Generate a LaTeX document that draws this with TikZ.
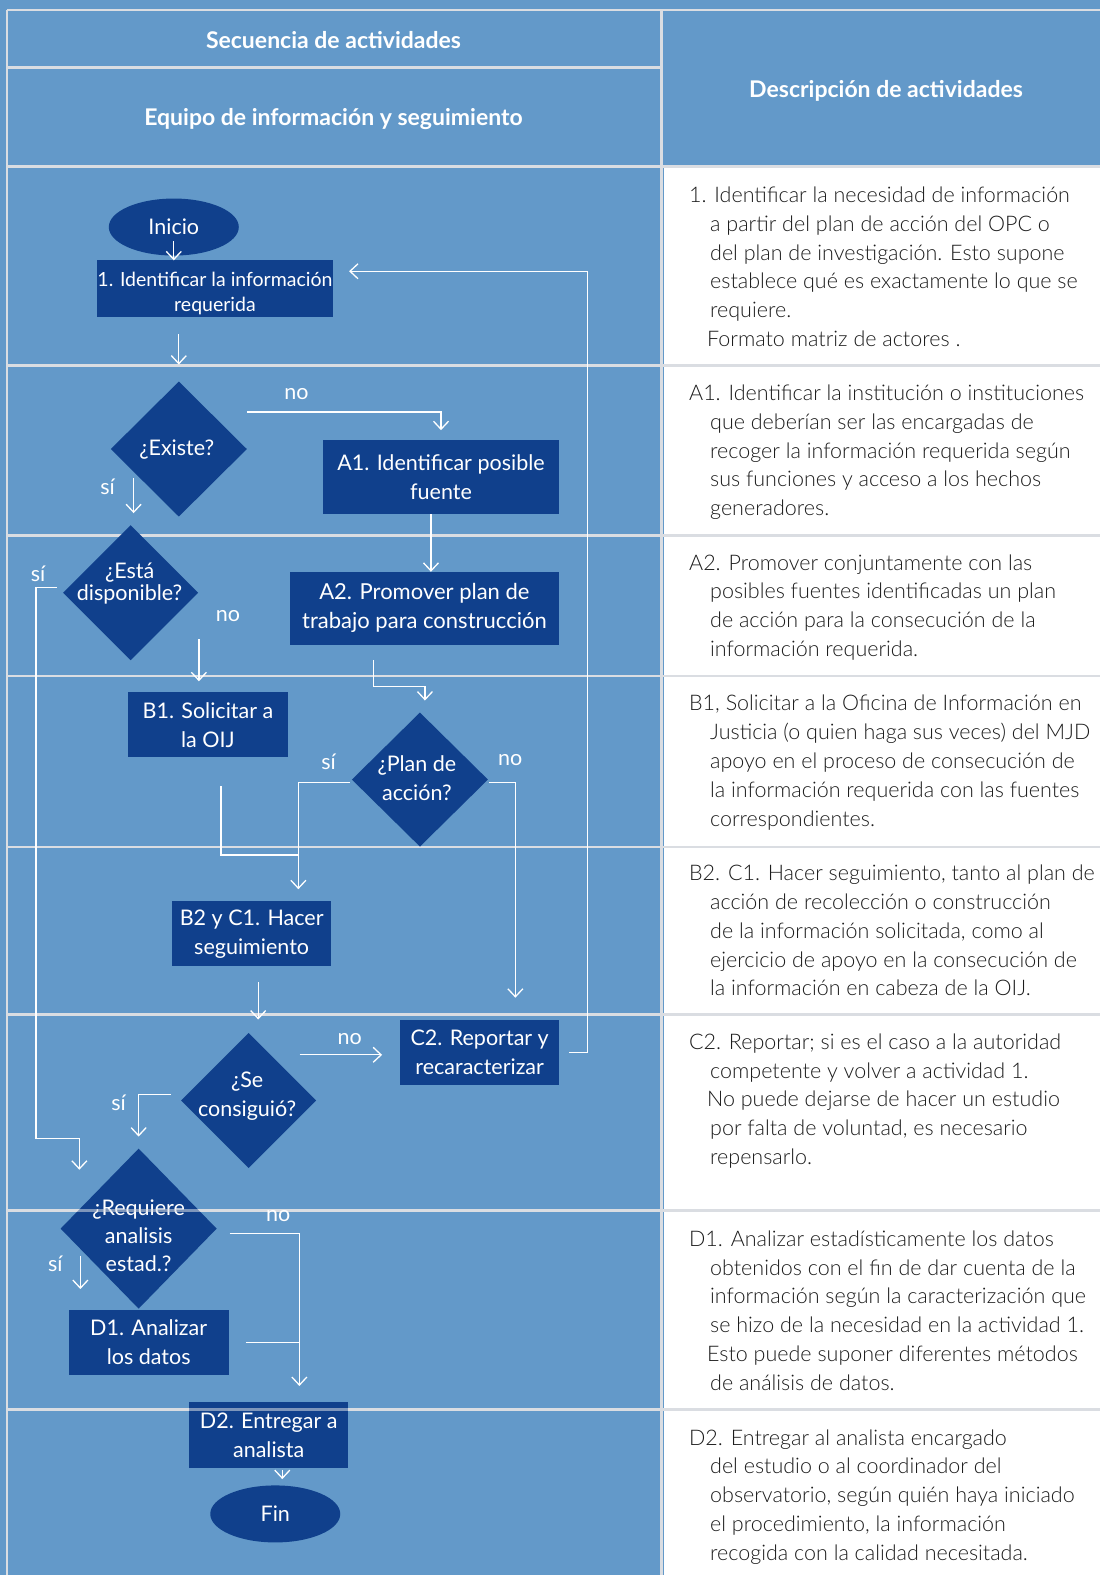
\documentclass[tikz,border=0pt]{standalone}
\usepackage{fontspec}
\setmainfont{Lato}
\newfontfamily\lightfont{Lato Light}
\usetikzlibrary{shapes.geometric,arrows.meta,calc}
\definecolor{bgblue}{RGB}{99,153,201}
\definecolor{nodeblue}{RGB}{16,64,140}
\definecolor{gridgray}{RGB}{218,221,226}
\definecolor{desctext}{RGB}{28,28,28}
\newcommand\nodefont{\fontsize{21.5}{29}\selectfont}
\newcommand\smallnodefont{\fontsize{19.5}{25}\selectfont}
\newcommand\descfont{\lightfont\fontsize{21.5}{28.8}\selectfont}
\newcommand\headfont{\bfseries\fontsize{23}{27}\selectfont}
\newcommand\ind{\hspace*{21pt}}
\newcommand\indb{\hspace*{18pt}}
\begin{document}
\begin{tikzpicture}[x=1.0046pt,y=-1.0046pt,
  every node/.style={inner sep=0pt, outer sep=0pt},
  procbox/.style={rectangle, fill=nodeblue, text=white, align=center, font=\nodefont},
  decbox/.style={diamond, fill=nodeblue},
  termbox/.style={ellipse, fill=nodeblue, text=white, font=\nodefont, minimum width=130pt, minimum height=57pt},
  connline/.style={draw=white, line width=1.3pt},
  arrline/.style={connline, -{Straight Barb[length=8pt,width=15pt,line width=1.3pt]}},
  lbltext/.style={text=white, font=\nodefont, align=center},
  gridline/.style={draw=gridgray, line width=2.6pt},
  descpar/.style={anchor=north west, align=left, text=desctext, font=\descfont},
  headtext/.style={text=white, font=\headfont}
]
\useasboundingbox (0,0) rectangle (1095,1567.8);
% background and table
\fill[bgblue] (0,0) rectangle (1095,1567.8);
\fill[white] (660.5,167) rectangle (1095,1567.8);
\draw[gridline] (7,10) -- (1095,10);
\draw[gridline] (7,10) -- (7,1567.8);
\draw[gridline] (658.5,10) -- (658.5,1567.8);
\draw[gridline] (7,67) -- (658.5,67);
\foreach \yy in {166,364,533,673,843,1010,1205,1403}
  \draw[gridline] (7,\yy) -- (1095,\yy);

% headers
\node[headtext] (hseq) at (332,40) {Secuencia de actividades};
\node[headtext] (hequ) at (332,118) {Equipo de información y seguimiento};
\node[headtext] (hdesc) at (882,90) {Descripción de actividades};

% flow nodes
\node[termbox] (inicio) at (173,226) {Inicio};
\node[procbox, minimum width=236pt, minimum height=57pt, font=\smallnodefont] (ident) at (214,287.5) {\rule{0pt}{23pt}1. Identificar la información\\requerida};
\node[decbox, minimum width=136pt, minimum height=135pt] (existe) at (178,447) {};
\node[lbltext] (existe-t) at (176,448) {¿Existe?};
\node[procbox, minimum width=236pt, minimum height=74pt] (a1) at (439,475) {A1. Identificar posible\\fuente};
\node[decbox, minimum width=135pt, minimum height=135pt] (esta) at (130,590) {};
\node[lbltext, font=\fontsize{21.5}{22}\selectfont] (esta-t) at (129,581) {¿Está\\disponible?};
\node[procbox, minimum width=269pt, minimum height=73pt, font=\fontsize{22}{29}\selectfont] (a2) at (422.5,605.5) {A2. Promover plan de\\trabajo para construcción};
\node[procbox, minimum width=160pt, minimum height=65pt] (b1) at (207,721.5) {B1. Solicitar a\\la OIJ};
\node[decbox, minimum width=136pt, minimum height=134pt] (plan) at (418,776) {};
\node[lbltext] (plan-t) at (415,775) {¿Plan de\\acción?};
\node[procbox, minimum width=159pt, minimum height=65pt] (b2) at (250.5,929.5) {B2 y C1. Hacer\\seguimiento};
\node[decbox, minimum width=135pt, minimum height=135pt] (secons) at (247.5,1095.5) {};
\node[lbltext] (secons-t) at (246,1091) {¿Se\\consiguió?};
\node[procbox, minimum width=159pt, minimum height=65pt] (c2) at (477.5,1047.5) {C2. Reportar y\\recaracterizar};
\node[decbox, minimum width=156pt, minimum height=160pt] (req) at (138,1223) {};
\node[lbltext, font=\fontsize{21.5}{28}\selectfont] (req-t) at (138,1230) {¿Requiere\\analisis\\estad.?};
\node[procbox, minimum width=160pt, minimum height=65pt] (d1) at (148,1336.5) {D1. Analizar\\los datos};
\node[procbox, minimum width=159pt, minimum height=66pt] (d2) at (267.5,1428.5) {D2. Entregar a\\analista};
\node[termbox] (fin) at (274,1507) {Fin};

% row lines that run over the shapes
\draw[gridline, opacity=0.55] (7,1205) -- (658.5,1205);
\draw[gridline, opacity=0.55] (7,1403) -- (658.5,1403);

% branch labels
\node[lbltext] (no1) at (295,392) {no};
\node[lbltext] (si1) at (107,485) {sí};
\node[lbltext] (si2) at (38,571) {sí};
\node[lbltext] (no2) at (227,613) {no};
\node[lbltext] (si3) at (327,758) {sí};
\node[lbltext] (no3) at (508,757) {no};
\node[lbltext] (no4) at (348,1034) {no};
\node[lbltext] (si4) at (118,1098) {sí};
\node[lbltext] (no5) at (277,1210) {no};
\node[lbltext] (si5) at (55,1258) {sí};

% connectors
\coordinate (reqin) at ($(req.north)+(-59,21)$);
\draw[arrline] ($(inicio.center)+(0,14)$) -- (inicio.center |- ident.north);
\draw[arrline, shorten <=17pt, shorten >=17pt] (existe.north |- ident.south) -- (existe.north);
\draw[arrline, shorten >=10pt] ($(existe.east)+(0,-37)$) -| (a1.north);
\draw[arrline] ($(esta.north)+(3,-47)$) -- ($(esta.north)+(3,-12)$);
\draw[arrline] ($(a1.south)+(-10,0)$) -- ($(a1.south |- a2.north)+(-10,0)$);
\draw[arrline] ($(esta.west)+(-6,-5)$) -- ++(-21,0) |- ($(reqin)+(0,-31)$) -- (reqin);
\draw[arrline] ($(b1.north)+(-9,-53)$) -- ($(b1.north)+(-9,-11)$);
\draw[arrline] ($(a2.south)+(-50.5,15)$) |- ($(plan.north)+(5,-26)$) -- ($(plan.north)+(5,-12)$);
\draw[arrline] ($(plan.west)+(-2,3)$) -| ($(b2.north)+(46.5,-12)$);
\draw[connline] ($(b1.south)+(13,29)$) |- ($(b2.north)+(46.5,-46)$);
\draw[arrline] ($(plan.east)+(1,3)$) -| ($(c2.north)+(35.5,-22)$);
\draw[arrline] ($(b2.south)+(6.5,16)$) -- ($(b2.south)+(6.5,53)$);
\draw[arrline] ($(c2.west)+(-100,2.5)$) -- ($(c2.west)+(-18,2.5)$);
\draw[arrline] ($(c2.east)+(10,0)$) -- ++(18,0) |- ($(ident.east)+(16,-17.5)$);
\draw[arrline] ($(secons.west)+(-10,-6)$) -| ($(req.north)+(0,-12)$);
\draw[arrline] ($(req.east)+(13,5)$) -| ($(d2.north)+(30.5,-16)$);
\draw[arrline] ($(d1.north)+(-68,-54)$) -- ($(d1.north)+(-68,-21)$);
\draw[connline] ($(d1.east)+(17,0)$) -- ($(d1.east)+(70,0)$);
\draw[arrline] ($(d2.south)+(13.5,2)$) -- ($(d2.south)+(13.5,11)$);

% activity descriptions
\node[descpar] (desc1) at (686,186) {1. Identificar la necesidad de información\\
\ind a partir del plan de acción del OPC o\\
\ind del plan de investigación. Esto supone\\
\ind establece qué es exactamente lo que se\\
\ind requiere.\\
\indb Formato matriz de actores .};
\node[descpar] (desc2) at (686,383) {A1. Identificar la institución o instituciones\\
\ind que deberían ser las encargadas de\\
\ind recoger la información requerida según\\
\ind sus funciones y acceso a los hechos\\
\ind generadores.};
\node[descpar] (desc3) at (686,552) {A2. Promover conjuntamente con las\\
\ind posibles fuentes identificadas un plan\\
\ind de acción para la consecución de la\\
\ind información requerida.};
\node[descpar] (desc4) at (686,692) {B1, Solicitar a la Oficina de Información en\\
\ind Justicia (o quien haga sus veces) del MJD\\
\ind apoyo en el proceso de consecución de\\
\ind la información requerida con las fuentes\\
\ind correspondientes.};
\node[descpar] (desc5) at (686,861) {B2. C1. Hacer seguimiento, tanto al plan de\\
\ind acción de recolección o construcción\\
\ind de la información solicitada, como al\\
\ind ejercicio de apoyo en la consecución de\\
\ind la información en cabeza de la OIJ.};
\node[descpar] (desc6) at (686,1029) {C2. Reportar; si es el caso a la autoridad\\
\ind competente y volver a actividad 1.\\
\indb No puede dejarse de hacer un estudio\\
\ind por falta de voluntad, es necesario\\
\ind repensarlo.};
\node[descpar] (desc7) at (686,1225) {D1. Analizar estadísticamente los datos\\
\ind obtenidos con el fin de dar cuenta de la\\
\ind información según la caracterización que\\
\ind se hizo de la necesidad en la actividad 1.\\
\indb Esto puede suponer diferentes métodos\\
\ind de análisis de datos.};
\node[descpar] (desc8) at (686,1423) {D2. Entregar al analista encargado\\
\ind del estudio o al coordinador del\\
\ind observatorio, según quién haya iniciado\\
\ind el procedimiento, la información\\
\ind recogida con la calidad necesitada.};
\end{tikzpicture}
\end{document}
